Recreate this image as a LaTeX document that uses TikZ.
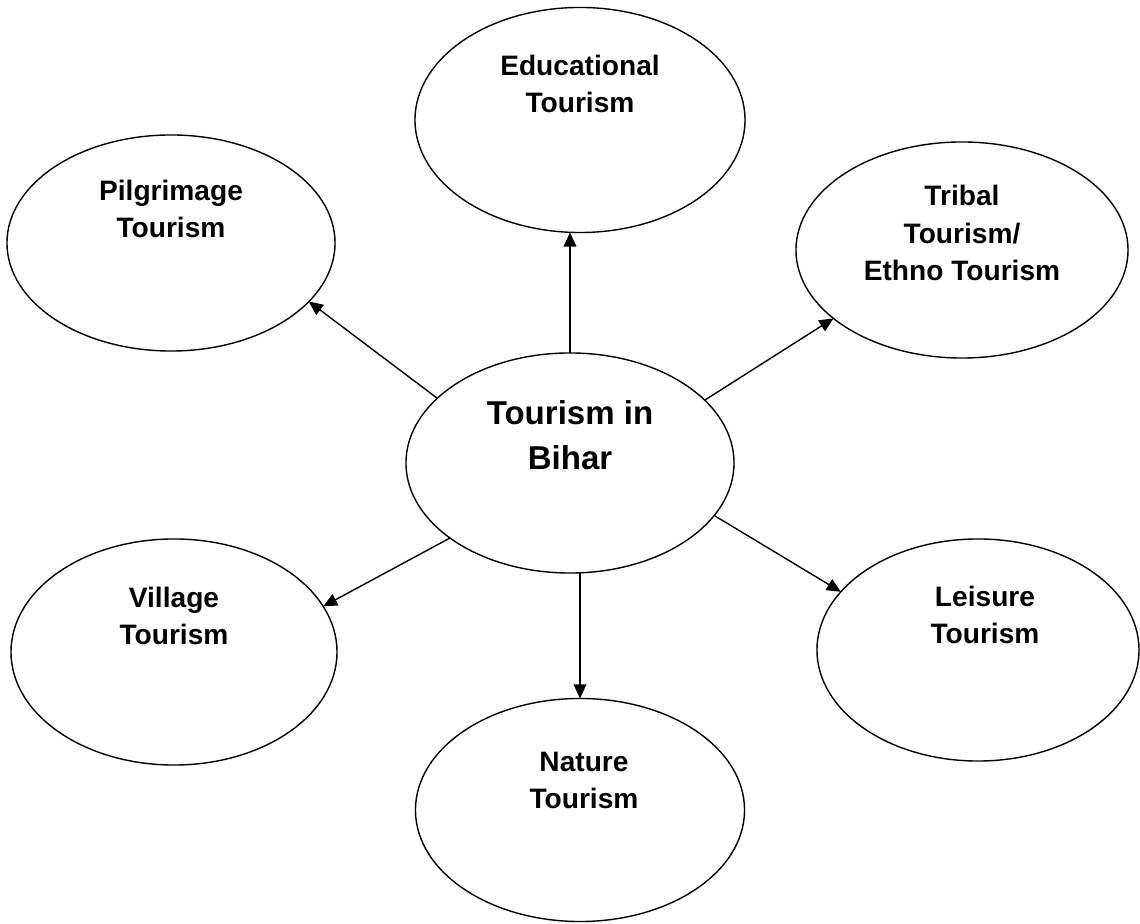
\documentclass[tikz,border=0pt]{standalone}
\usepackage{fontspec}
\setmainfont{Liberation Sans}
\usetikzlibrary{arrows.meta, shapes.geometric}

\begin{document}
\begin{tikzpicture}[
  x=0.025cm, y=-0.025cm,
  bubble/.style={draw, ellipse, line width=1pt, inner sep=0pt, outer sep=0pt},
  lbl/.style={align=center, font=\fontsize{20}{26.5}\selectfont\bfseries},
  hublbl/.style={align=center, font=\fontsize{23.5}{32}\selectfont\bfseries},
  arr/.style={-{Triangle[length=10pt, width=9pt]}, line width=1pt}
]
\useasboundingbox (0,0) rectangle (1140,924);
\node[bubble, minimum width=8.2cm,   minimum height=5.5cm]   (hub) at (570,463) {};
\node[bubble, minimum width=8.25cm,  minimum height=5.625cm] (edu) at (580,120) {};
\node[bubble, minimum width=8.2cm,   minimum height=5.4cm]   (pil) at (171,243) {};
\node[bubble, minimum width=8.3cm,   minimum height=5.4cm]   (tri) at (962,250) {};
\node[bubble, minimum width=8.15cm,  minimum height=5.65cm]  (vil) at (174,652) {};
\node[bubble, minimum width=8.05cm,  minimum height=5.55cm]  (lei) at (978,650) {};
\node[bubble, minimum width=8.225cm, minimum height=5.575cm] (nat) at (580,810) {};

\node[hublbl] (hub-txt) at ([yshift=0.69cm]hub.center) {Tourism in\\Bihar};
\node[lbl] (edu-txt) at ([yshift=0.9cm]edu.center) {Educational\\Tourism};
\node[lbl] (pil-txt) at ([yshift=0.85cm]pil.center) {Pilgrimage\\Tourism};
\node[lbl] (tri-txt) at ([yshift=0.425cm]tri.center) {Tribal\\Tourism/\\Ethno Tourism};
\node[lbl] (vil-txt) at ([yshift=0.9cm]vil.center) {Village\\Tourism};
\node[lbl] (lei-txt) at ([xshift=0.175cm, yshift=0.875cm]lei.center) {Leisure\\Tourism};
\node[lbl] (nat-txt) at ([xshift=0.1cm, yshift=0.74cm]nat.center) {Nature\\Tourism};

\draw[arr] (hub.north) -- (hub.north |- edu.south);
\draw[arr] (hub.154) -- (pil.-23);
\draw[arr] (hub.25) -- (tri.208);
\draw[arr] (hub.212) -- (vil.17);
\draw[arr] (hub.-20) -- (lei.157);
\draw[arr] (nat.north |- hub.south) -- (nat.north);
\end{tikzpicture}
\end{document}
